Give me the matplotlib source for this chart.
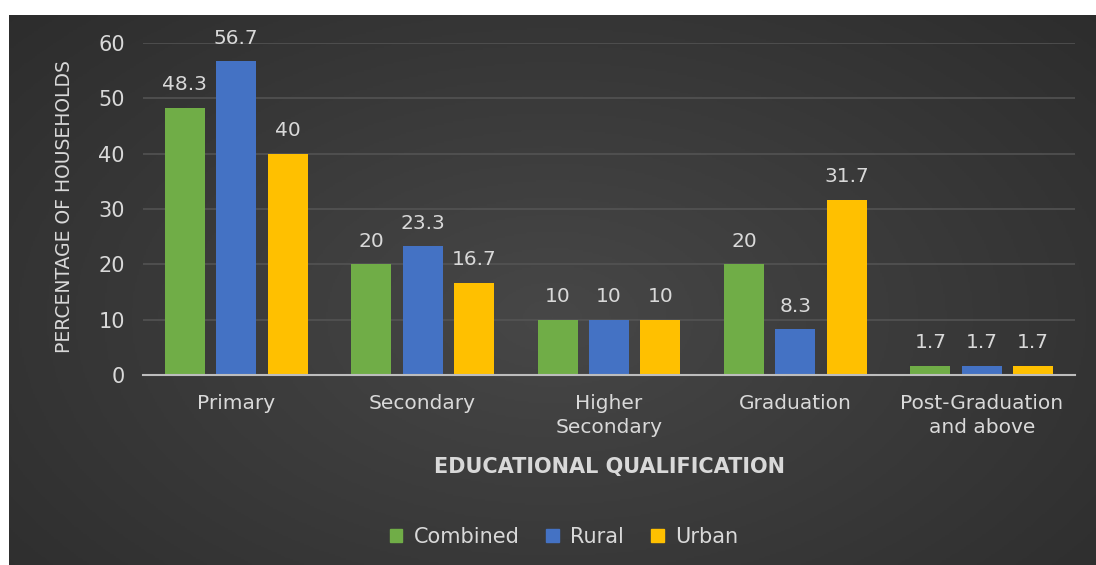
import numpy as np
import matplotlib
matplotlib.use("Agg")
import matplotlib.pyplot as plt
from matplotlib.patches import Patch
from matplotlib.colors import LinearSegmentedColormap

plt.rcParams['font.family'] = ['DejaVu Sans']

categories = ["Primary", "Secondary", "Higher\nSecondary", "Graduation",
              "Post-Graduation\nand above"]
combined = [48.3, 20, 10, 20, 1.7]
rural = [56.7, 23.3, 10, 8.3, 1.7]
urban = [40, 16.7, 10, 31.7, 1.7]

series = [("Combined", combined, "#70ad47"),
          ("Rural", rural, "#4472c4"),
          ("Urban", urban, "#ffc000")]

text_col = "#d9d9d9"

fig = plt.figure(figsize=(10.96, 5.65), dpi=100)
fig.patch.set_facecolor("white")

# dark panel with a soft radial glow behind the chart
bg = fig.add_axes([9 / 1096, 0, 1 - 9 / 1096, 1 - 15 / 565])
bg.set_axis_off()
yy, xx = np.mgrid[0:1:300j, 0:1:600j]
r = np.sqrt(((xx - 0.5) / 0.75) ** 2 + ((yy - 0.55) / 0.9) ** 2)
glow = LinearSegmentedColormap.from_list("glow", ["#474747", "#2a2a2a"])
bg.imshow(np.clip(r, 0, 1), cmap=glow, aspect="auto", extent=[0, 1, 0, 1],
          vmin=0, vmax=1)

ax = fig.add_axes([143 / 1096, 1 - 375 / 565, (1075 - 143) / 1096,
                   (375 - 43) / 565])
ax.patch.set_alpha(0)

x = np.arange(len(categories))
width = 0.215
step = 0.276
for i, (name, vals, col) in enumerate(series):
    pos = x + (i - 1) * step
    bars = ax.bar(pos, vals, width, color=col, label=name, zorder=3)
    for b, v in zip(bars, vals):
        ax.text(b.get_x() + b.get_width() / 2, v + 2.4, f"{v:g}",
                ha="center", va="bottom", color=text_col, fontsize=14.5)

ax.set_xlim(-0.5, len(categories) - 0.5)
ax.set_ylim(0, 60)
ax.set_yticks(range(0, 61, 10))
ax.set_xticks(x)
ax.set_xticklabels(categories, color=text_col, fontsize=14.5,
                   linespacing=1.3)
ax.tick_params(axis="y", colors=text_col, labelsize=15, length=0, pad=13)
ax.tick_params(axis="x", length=0, pad=14)
ax.grid(axis="y", color="#555555", linewidth=1.1, zorder=0)
for s in ("top", "right", "left"):
    ax.spines[s].set_visible(False)
ax.spines["bottom"].set_color("#bdbdbd")
ax.spines["bottom"].set_linewidth(1.5)
ax.spines["bottom"].set_zorder(4)

fig.text(65 / 1096, 1 - 207 / 565, "PERCENTAGE OF HOUSEHOLDS",
         color=text_col, fontsize=13.5, rotation=90, ha="center",
         va="center")
fig.text(610 / 1096, 1 - 467 / 565, "EDUCATIONAL QUALIFICATION",
         color=text_col, fontsize=15, fontweight="bold", ha="center",
         va="center")

handles = [Patch(color=c, label=n) for n, _, c in series]
fig.legend(handles=handles, loc="center",
           bbox_to_anchor=(564 / 1096, 1 - 537 / 565),
           ncol=3, frameon=False, fontsize=15, labelcolor=text_col,
           handlelength=0.6, handleheight=0.6, handletextpad=0.55,
           columnspacing=1.3)

fig.savefig("out.png", dpi=100)
